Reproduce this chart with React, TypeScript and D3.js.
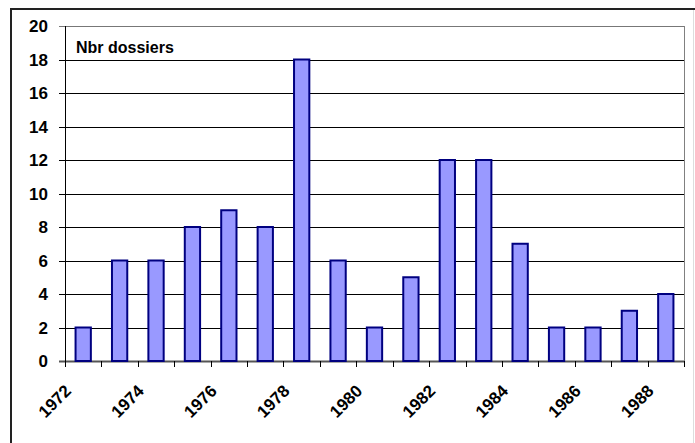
import { useEffect, useRef } from 'react';
import * as d3 from 'd3';

const years = [1972, 1973, 1974, 1975, 1976, 1977, 1978, 1979, 1980, 1981, 1982, 1983, 1984, 1985, 1986, 1987, 1988];
const dossiers = [2, 6, 6, 8, 9, 8, 18, 6, 2, 5, 12, 12, 7, 2, 2, 3, 4];
const yTicks = [0, 2, 4, 6, 8, 10, 12, 14, 16, 18, 20];
const xLabels = [1972, 1974, 1976, 1978, 1980, 1982, 1984, 1986, 1988];

export default function App() {
  const svgRef = useRef<SVGSVGElement>(null);

  useEffect(() => {
    if (!svgRef.current) return;
    const svg = d3.select(svgRef.current);
    svg.selectAll("*").remove();

    const left = 65, right = 684, top = 26, bottom = 361;
    const font = "Arial, 'Liberation Sans', sans-serif";

    // outer frame: dark top/left, pale right
    svg.append("line")
      .attr("x1", 11).attr("x2", 11).attr("y1", 8).attr("y2", 443)
      .style("stroke", "#222").style("stroke-width", 2);
    svg.append("line")
      .attr("x1", 10).attr("x2", 695).attr("y1", 9).attr("y2", 9)
      .style("stroke", "#222").style("stroke-width", 2);
    svg.append("line")
      .attr("x1", 693.5).attr("x2", 693.5).attr("y1", 10).attr("y2", 443)
      .style("stroke", "#ddd");

    const x = d3.scaleBand<number>()
      .domain(years)
      .range([left, right])
      .paddingInner(0)
      .paddingOuter(0);

    const y = d3.scaleLinear()
      .domain([0, 20])
      .range([bottom, top]);

    // gridlines + y ticks
    yTicks.forEach(v => {
      const yy = Math.round(y(v)) + 0.5;
      svg.append("line")
        .attr("x1", left - 6).attr("x2", right)
        .attr("y1", yy).attr("y2", yy)
        .style("stroke", v === 0 ? "#555" : (v === 20 ? "#777" : "#000"))
        .style("stroke-width", v === 0 ? 2 : 1);
      svg.append("text")
        .attr("x", 48)
        .attr("y", yy)
        .attr("text-anchor", "end")
        .attr("dominant-baseline", "central")
        .style("font-family", font)
        .style("font-weight", "bold")
        .style("font-size", "17px")
        .text(v);
    });

    // right border of plot area
    svg.append("line")
      .attr("x1", right + 0.5).attr("x2", right + 0.5)
      .attr("y1", y(20)).attr("y2", y(0) + 5)
      .style("stroke", "#808080");

    // bars
    const bw = x.bandwidth() * 0.42;
    svg.selectAll(".bar")
      .data(years)
      .enter()
      .append("rect")
      .attr("class", "bar")
      .attr("x", (d) => x(d)! + (x.bandwidth() - bw) / 2)
      .attr("y", (_d, i) => y(dossiers[i]))
      .attr("width", bw)
      .attr("height", (_d, i) => y(0) - y(dossiers[i]))
      .style("fill", "#9999FF")
      .style("stroke", "#000080")
      .style("stroke-width", 2);

    // y axis
    svg.append("line")
      .attr("x1", left + 0.5).attr("x2", left + 0.5)
      .attr("y1", y(20)).attr("y2", y(0))
      .style("stroke", "#000");

    // x axis ticks at category boundaries
    const bounds = years.map(d => x(d)!).concat([right]);
    bounds.forEach(bx => {
      svg.append("line")
        .attr("x1", Math.round(bx) + 0.5).attr("x2", Math.round(bx) + 0.5)
        .attr("y1", y(0)).attr("y2", y(0) + 6)
        .style("stroke", "#000");
    });

    // x labels rotated
    xLabels.forEach(yr => {
      const cx = x(yr)! + x.bandwidth() / 2;
      svg.append("text")
        .attr("transform", `translate(${cx - 11},${392}) rotate(-45)`)
        .attr("text-anchor", "end")
        .style("font-family", font)
        .style("font-weight", "bold")
        .style("font-size", "17px")
        .text(yr);
    });

    // series title
    svg.append("text")
      .attr("x", 76)
      .attr("y", 53)
      .style("font-family", font)
      .style("font-weight", "bold")
      .style("font-size", "16px")
      .text("Nbr dossiers");
  }, []);

  return (
    <div style={{ position: "absolute", left: 0, top: 0, width: 695, height: 443, overflow: "hidden", background: "white" }}>
      <svg ref={svgRef} width={695} height={443} style={{ display: "block" }} />
    </div>
  );
}
